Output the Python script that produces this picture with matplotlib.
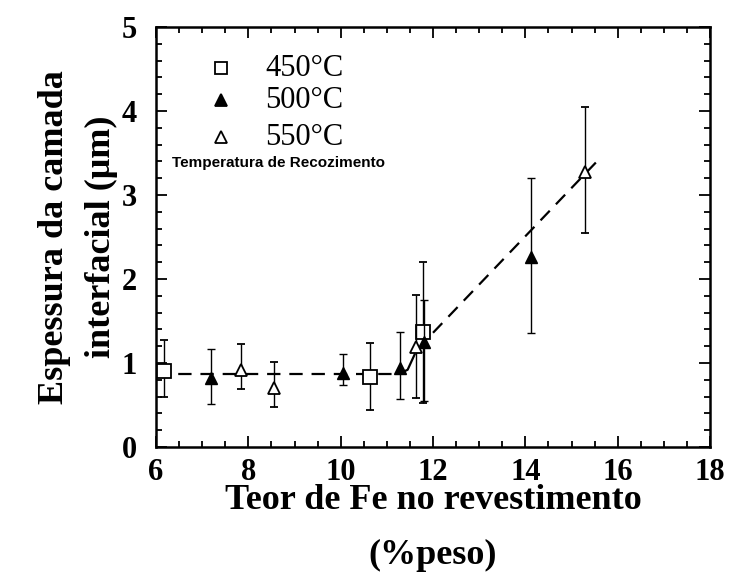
import matplotlib
matplotlib.use('Agg')
import matplotlib.pyplot as plt
from matplotlib.ticker import MultipleLocator

# Teor de Fe (%peso) e espessura (um) para cada temperatura de recozimento
fe_450 = [6.17, 10.63, 11.78]
esp_450 = [0.90, 0.83, 1.37]
erro_sup_450 = [0.38, 0.41, 0.83]
erro_inf_450 = [0.30, 0.39, 0.85]

fe_500 = [7.2, 10.04, 11.28, 11.8, 14.13]
esp_500 = [0.82, 0.88, 0.94, 1.25, 2.26]
erro_sup_500 = [0.35, 0.23, 0.43, 0.50, 0.94]
erro_inf_500 = [0.31, 0.14, 0.37, 0.70, 0.90]

fe_550 = [7.83, 8.55, 11.63, 15.3]
esp_550 = [0.92, 0.70, 1.19, 3.27]
erro_sup_550 = [0.31, 0.31, 0.62, 0.78]
erro_inf_550 = [0.23, 0.22, 0.61, 0.72]

# Linhas de tendencia
patamar_x = [6.0, 11.3]
patamar_y = [0.87, 0.87]
transicao_x = [11.3, 11.45, 11.6]
transicao_y = [0.88, 0.92, 1.10]
subida_x = [12.0, 15.55]
subida_y = [1.36, 3.40]

fig = plt.figure(figsize=(7.37, 5.81), dpi=100)
ax = fig.add_axes([0.2117, 0.2306, 0.7517, 0.7229])

serif = ['Liberation Serif', 'DejaVu Serif']

ax.plot(patamar_x, patamar_y, 'k--', lw=1.6, dashes=(6, 4))
ax.plot(transicao_x, transicao_y, 'k-', lw=1.6)
ax.plot(subida_x, subida_y, 'k--', lw=1.6, dashes=(6, 4))

ax.errorbar(fe_450, esp_450, yerr=[erro_inf_450, erro_sup_450], fmt='s',
            mfc='white', mec='black', ms=10, mew=1.3, ecolor='black',
            elinewidth=1.0, capsize=3, zorder=3)
ax.errorbar(fe_500, esp_500, yerr=[erro_inf_500, erro_sup_500], fmt='^',
            mfc='black', mec='black', ms=9, ecolor='black',
            elinewidth=1.0, capsize=3, zorder=4)
ax.errorbar(fe_550, esp_550, yerr=[erro_inf_550, erro_sup_550], fmt='^',
            mfc='white', mec='black', ms=9, mew=1.3, ecolor='black',
            elinewidth=1.0, capsize=3, zorder=5)

ax.set_xlim(6, 18)
ax.set_ylim(0, 5)
ax.xaxis.set_major_locator(MultipleLocator(2))
ax.xaxis.set_minor_locator(MultipleLocator(0.5))
ax.yaxis.set_major_locator(MultipleLocator(1))
ax.yaxis.set_minor_locator(MultipleLocator(0.2))
ax.tick_params(which='both', direction='in', top=True, right=True, width=1.3)
ax.tick_params(which='major', length=8, labelsize=22)
ax.tick_params(axis='x', which='major', pad=8)
ax.tick_params(axis='y', which='major', pad=14)
ax.tick_params(which='minor', length=4)
for lab in ax.get_xticklabels() + ax.get_yticklabels():
    lab.set_family(serif)
    lab.set_fontweight('bold')
for s in ax.spines.values():
    s.set_linewidth(1.8)

ax.set_xlabel('Teor de Fe no revestimento\n(%peso)', family=serif,
              fontsize=26, fontweight='bold', linespacing=1.85, labelpad=-2)
ax.set_ylabel('Espessura da camada\ninterfacial (\u03bcm)', family=serif,
              fontsize=26, fontweight='bold', linespacing=1.58, labelpad=2)

# Legenda manual
leg_y = [4.51, 4.13, 3.69]
leg_txt = ['450\u00b0C', '500\u00b0C', '550\u00b0C']
leg_mk = [('s', 'white'), ('^', 'black'), ('^', 'white')]
for yy, txt, (mk, fc) in zip(leg_y, leg_txt, leg_mk):
    ax.plot([7.41], [yy], marker=mk, mfc=fc, mec='black', ms=8, mew=1.3,
            ls='none')
    ax.text(8.37, yy, txt, family=serif, fontsize=22, va='center')
ax.text(6.35, 3.38, 'Temperatura de Recozimento', family=['Liberation Sans'],
        fontsize=11, fontweight='bold', va='center')

fig.savefig('out.png', dpi=100)
